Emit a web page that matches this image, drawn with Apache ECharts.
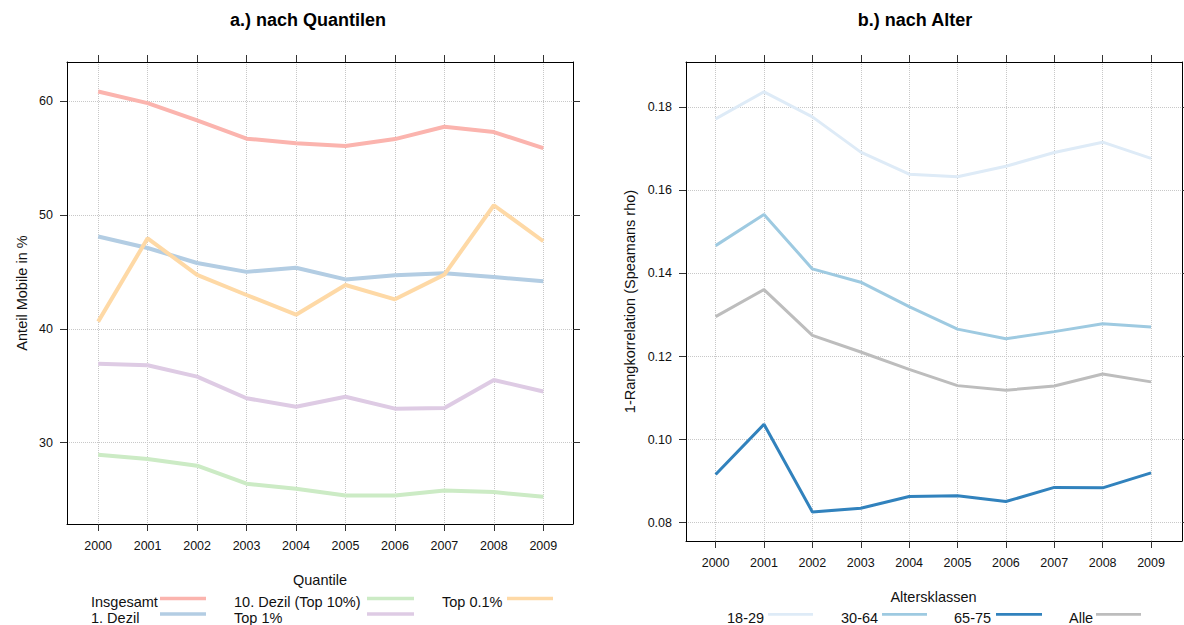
<!DOCTYPE html>
<html><head><meta charset="utf-8">
<script src="https://cdn.jsdelivr.net/npm/echarts@6/dist/echarts.min.js"></script>
<style>html,body{margin:0;padding:0;background:#fff}#c{width:1184px;height:625px}</style>
</head><body><div id="c"></div>
<script>
// ---------- data ----------
const years = [2000, 2001, 2002, 2003, 2004, 2005, 2006, 2007, 2008, 2009];

const quantNames = ['Insgesamt', '1. Dezil', '10. Dezil (Top 10%)', 'Top 1%', 'Top 0.1%'];
const insgesamt = [60.84, 59.82, 58.3, 56.7, 56.3, 56.05, 56.66, 57.74, 57.28, 55.87];
const dezil1    = [48.1, 47.1, 45.78, 45.0, 45.36, 44.34, 44.7, 44.87, 44.55, 44.17];
const dezil10   = [28.95, 28.56, 27.98, 26.4, 25.96, 25.37, 25.37, 25.81, 25.66, 25.25];
const top1      = [36.94, 36.8, 35.8, 33.9, 33.16, 34.04, 32.99, 33.05, 35.5, 34.5];
const top01     = [40.63, 47.95, 44.73, 42.97, 41.24, 43.85, 42.59, 44.76, 50.85, 47.69];
const quantColors = ['#FBB4AE', '#B3CDE3', '#CCEBC5', '#DECBE4', '#FED9A6'];
const leftYTicks = [30, 40, 50, 60];

const ageNames = ['18-29', '30-64', '65-75', 'Alle'];
const age1829 = [0.1772, 0.1837, 0.1777, 0.1692, 0.1639, 0.1633, 0.1658, 0.1691, 0.1716, 0.1677];
const age3064 = [0.1467, 0.1542, 0.1411, 0.1379, 0.1320, 0.1266, 0.1243, 0.1260, 0.1279, 0.1271];
const age6575 = [0.0916, 0.1037, 0.0826, 0.0835, 0.0863, 0.0865, 0.0851, 0.0885, 0.0884, 0.0920];
const ageAlle = [0.1296, 0.1361, 0.1251, 0.1211, 0.1169, 0.1130, 0.1119, 0.1129, 0.1158, 0.1139];
const ageColors = ['#DEEBF7', '#9ECAE1', '#3182BD', '#BDBDBD'];
const rightYTicks = [0.08, 0.10, 0.12, 0.14, 0.16, 0.18];

// ---------- layout ----------
const FONT = '"Liberation Sans", Arial, Helvetica, sans-serif';
const chart = echarts.init(document.getElementById('c'), null, {renderer: 'svg'});

const quantSeries = [insgesamt, dezil1, dezil10, top1, top01];
const ageSeries = [age1829, age3064, age6575, ageAlle];

function xAx(grid, pos, min, max, main) {
  return {
    type: 'value', gridIndex: grid, position: pos, min: min, max: max,
    axisLine: {show: true, onZero: false, lineStyle: {color: '#000', width: 1}},
    axisTick: {show: true, inside: false, length: 7, customValues: years, lineStyle: {color: '#333'}},
    axisLabel: {show: main, customValues: years, margin: 15, fontSize: 12.5, color: '#111', fontFamily: FONT,
      formatter: v => String(Math.round(v))},
    splitLine: {show: main, lineStyle: {color: '#c8c8c8', type: 'dotted', width: 1}}
  };
}
function yAx(grid, pos, min, max, ticks, main, fmt, name, gap) {
  return {
    type: 'value', gridIndex: grid, position: pos, min: min, max: max,
    name: main ? name : '', nameLocation: 'middle', nameGap: gap,
    nameTextStyle: {fontSize: 14.5, color: '#111', fontFamily: FONT},
    axisLine: {show: true, onZero: false, lineStyle: {color: '#000', width: 1}},
    axisTick: {show: true, inside: false, length: 7, customValues: ticks, lineStyle: {color: '#333'}},
    axisLabel: {show: main, customValues: ticks, margin: 14, fontSize: 12.5, color: '#111', fontFamily: FONT,
      formatter: fmt},
    splitLine: {show: main, lineStyle: {color: '#c8c8c8', type: 'dotted', width: 1}}
  };
}

const series = [];
quantSeries.forEach((arr, i) => {
  series.push({
    name: quantNames[i], type: 'line', xAxisIndex: 0, yAxisIndex: 0,
    data: years.map((y, j) => [y, arr[j]]), showSymbol: false, symbol: 'none',
    lineStyle: {color: quantColors[i], width: 4}, itemStyle: {color: quantColors[i]},
    animation: false, z: 3 + i
  });
});
ageSeries.forEach((arr, i) => {
  series.push({
    name: ageNames[i], type: 'line', xAxisIndex: 2, yAxisIndex: 2,
    data: years.map((y, j) => [y, arr[j]]), showSymbol: false, symbol: 'none',
    lineStyle: {color: ageColors[i], width: 3}, itemStyle: {color: ageColors[i]},
    animation: false, z: 3 + i
  });
});

// legends (text followed by line key)
const graphics = [];
function txt(x, y, s, opts) {
  graphics.push({type: 'text', x: x, y: y, silent: true,
    style: Object.assign({text: s, fill: '#111', font: '14.5px ' + FONT, align: 'left', verticalAlign: 'middle'}, opts || {})});
}
function key(x1, x2, y, color, w) {
  graphics.push({type: 'line', silent: true, shape: {x1: x1, y1: y, x2: x2, y2: y},
    style: {stroke: color, lineWidth: w}});
}
// titles
txt(308, 20, 'a.) nach Quantilen', {align: 'center', font: 'bold 18px ' + FONT, fill: '#000'});
txt(915, 20, 'b.) nach Alter', {align: 'center', font: 'bold 18px ' + FONT, fill: '#000'});
// left legend
txt(320, 580, 'Quantile', {align: 'center'});
const qCols = [91, 91, 234, 234, 442];
const qKeys = [[160, 206], [160, 206], [367, 414], [367, 414], [507, 553]];
const qRowText = [601.5, 617.5, 601.5, 617.5, 601.5];
const qRowKey = [598.5, 614, 598.5, 614, 598.5];
// legend order: Insgesamt, 1. Dezil, 10. Dezil, Top 1%, Top 0.1%
quantNames.forEach((n, i) => {
  txt(qCols[i], qRowText[i], n);
  key(qKeys[i][0], qKeys[i][1], qRowKey[i], quantColors[i], 3.5);
});
// right legend
txt(933.5, 596.5, 'Altersklassen', {align: 'center'});
const aText = [727, 841, 954, 1069];
const aKeys = [[768, 813], [882, 927], [996, 1042], [1096, 1141]];
ageNames.forEach((n, i) => {
  txt(aText[i], 618, n);
  key(aKeys[i][0], aKeys[i][1], 614.3, ageColors[i], 2.7);
});

const option = {
  backgroundColor: '#fff',
  animation: false,
  grid: [
    {left: 67, top: 62, width: 506, height: 462, containLabel: false},
    {left: 686, top: 62, width: 496, height: 479, containLabel: false}
  ],
  xAxis: [
    xAx(0, 'bottom', 1999.37, 2009.6, true),
    xAx(0, 'top', 1999.37, 2009.6, false),
    xAx(1, 'bottom', 1999.388, 2009.64, true),
    xAx(1, 'top', 1999.388, 2009.64, false)
  ],
  yAxis: [
    yAx(0, 'left', 22.86, 63.43, leftYTicks, true, v => String(Math.round(v)), 'Anteil Mobile in %', 38),
    yAx(0, 'right', 22.86, 63.43, leftYTicks, false, null, '', 0),
    yAx(1, 'left', 0.0756, 0.1909, rightYTicks, true, v => v.toFixed(2), '1-Rangkorrelation (Speamans rho)', 49),
    yAx(1, 'right', 0.0756, 0.1909, rightYTicks, false, null, '', 0)
  ],
  series: series,
  graphic: graphics
};
chart.setOption(option);
</script>
</body></html>
